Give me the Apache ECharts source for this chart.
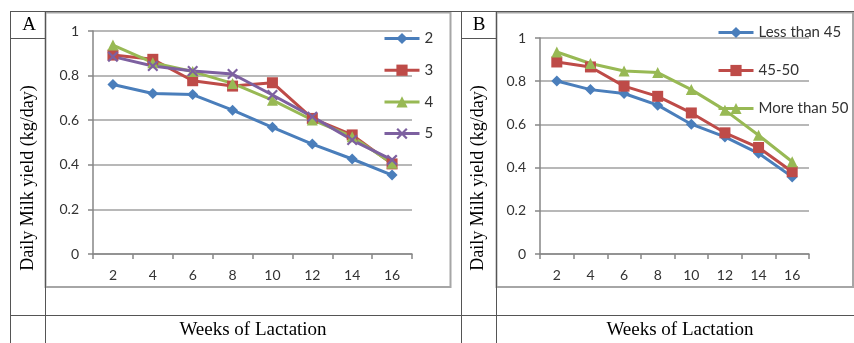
<!DOCTYPE html>
<html>
<head>
<meta charset="utf-8">
<script src="https://cdn.jsdelivr.net/npm/echarts@6/dist/echarts.min.js"></script>
<style>
html,body{margin:0;padding:0;background:#fff;}
#c{width:854px;height:343px;}
</style>
</head>
<body>
<div id="c"></div>
<script>
const weeks = ['2','4','6','8','10','12','14','16'];
// Panel A (series by parity)
const seriesA2 = [0.76, 0.72, 0.715, 0.645, 0.568, 0.493, 0.426, 0.354];
const seriesA3 = [0.892, 0.873, 0.777, 0.753, 0.768, 0.608, 0.534, 0.404];
const seriesA4 = [0.937, 0.858, 0.818, 0.765, 0.69, 0.601, 0.526, 0.407];
const seriesA5 = [0.885, 0.843, 0.821, 0.807, 0.713, 0.616, 0.511, 0.422];
// Panel B (series by body weight group)
const seriesBLess45 = [0.801, 0.761, 0.743, 0.689, 0.601, 0.542, 0.466, 0.357];
const seriesB4550 = [0.889, 0.866, 0.777, 0.730, 0.653, 0.561, 0.493, 0.381];
const seriesBMore50 = [0.935, 0.882, 0.847, 0.840, 0.761, 0.666, 0.550, 0.427];
const namesA = ['2','3','4','5'];
const namesB = ['Less than 45','45-50','More than 50'];
const yTicks = [0, 0.2, 0.4, 0.6, 0.8, 1];

const BLUE='#4A7EBB', RED='#BE4B48', GREEN='#98B954', PURPLE='#7D60A0';
const XSYM = 'path://M0,1.4L1.4,0L5,3.6L8.6,0L10,1.4L6.4,5L10,8.6L8.6,10L5,6.4L1.4,10L0,8.6L3.6,5Z';
const sans = 'Lato';
const serif = 'Liberation Serif';
const tableColor = '#555555';
const frameColor = '#a6a6a6';
const gridColor = '#a0a0a0';

function mkX(i){
  return {type:'category', gridIndex:i, data:weeks, boundaryGap:true,
    axisLine:{lineStyle:{color:'#868686',width:1.5}},
    axisTick:{show:true,length:5,lineStyle:{color:'#868686',width:1.5}},
    axisLabel:{color:'#333',fontFamily:sans,fontSize:14,margin:14}};
}
function mkY(i){
  return {type:'value', gridIndex:i, min:0, max:1, interval:0.2,
    axisLine:{show:true,lineStyle:{color:'#868686',width:1.5}},
    axisTick:{show:true,length:5,lineStyle:{color:'#868686',width:1.5}},
    splitLine:{show:true,lineStyle:{color:gridColor,width:1.5}},
    axisLabel:{color:'#333',fontFamily:sans,fontSize:14,margin:14,
      formatter:function(v){ return yTicks.indexOf(Math.round(v*10)/10) >= 0 ? String(Math.round(v*10)/10) : ''; }}};
}
function mkS(name, data, color, symbol, size, gi){
  return {type:'line', name:name, data:data, xAxisIndex:gi, yAxisIndex:gi,
    color:color, symbol:symbol, symbolSize:size, showAllSymbol:true,
    lineStyle:{color:color,width:3}, itemStyle:{color:color},
    emphasis:{disabled:true}, animation:false};
}

function line(x1,y1,x2,y2,color,w){
  return {type:'line', shape:{x1:x1,y1:y1,x2:x2,y2:y2}, style:{stroke:color,lineWidth:w||1}, z:100, silent:true};
}
function txt(t,x,y,size,rot){
  return {type:'text', x:x, y:y, rotation:rot||0, style:{text:t, fill:'#000', font: size+'px "'+serif+'"', align:'center', verticalAlign:'middle'}, z:100, silent:true};
}

const chart = echarts.init(document.getElementById('c'), null, {renderer:'canvas'});
chart.setOption({
  animation:false,
  backgroundColor:'#fff',
  grid:[
    {left:93, top:31, right:854-412, bottom:343-254, containLabel:false},
    {left:540, top:38, right:854-809, bottom:343-254, containLabel:false}
  ],
  xAxis:[mkX(0), mkX(1)],
  yAxis:[mkY(0), mkY(1)],
  legend:[
    {data:namesA, orient:'vertical', left:383, top:31, padding:0, itemWidth:35, itemHeight:14, itemGap:16.7,
      lineStyle:{width:3}, textStyle:{color:'#333',fontFamily:sans,fontSize:15}, selectedMode:false},
    {data:namesB, orient:'vertical', left:717, top:25, padding:0, itemWidth:35, itemHeight:14, itemGap:23,
      lineStyle:{width:3}, textStyle:{color:'#333',fontFamily:sans,fontSize:15}, selectedMode:false}
  ],
  series:[
    mkS(namesA[0], seriesA2, BLUE, 'diamond', 11, 0),
    mkS(namesA[1], seriesA3, RED, 'rect', 11, 0),
    mkS(namesA[2], seriesA4, GREEN, 'triangle', 11, 0),
    mkS(namesA[3], seriesA5, PURPLE, XSYM, 11, 0),
    mkS(namesB[0], seriesBLess45, BLUE, 'diamond', 11, 1),
    mkS(namesB[1], seriesB4550, RED, 'rect', 11, 1),
    mkS(namesB[2], seriesBMore50, GREEN, 'triangle', 11, 1)
  ],
  graphic:[
    // chart frames
    {type:'rect', shape:{x:45.5,y:12.5,width:405,height:274.5}, style:{fill:null, stroke:frameColor, lineWidth:2}, z:90, silent:true},
    {type:'rect', shape:{x:496.5,y:12.5,width:356.5,height:274.5}, style:{fill:null, stroke:frameColor, lineWidth:2}, z:90, silent:true},
    // table lines
    line(10,11.5,854,11.5,tableColor),
    line(10.5,11,10.5,343,tableColor),
    line(45.5,11,45.5,343,tableColor),
    line(461.5,11,461.5,343,tableColor),
    line(496.5,11,496.5,343,tableColor),
    line(10,38.5,45,38.5,tableColor),
    line(461,38.5,496,38.5,tableColor),
    line(10,315.5,854,315.5,tableColor),
    // texts
    txt('A',29,25,19),
    txt('B',479,25,19),
    txt('Daily Milk yield (kg/day)',28,178,18,Math.PI/2),
    txt('Daily Milk yield (kg/day)',478,178,18,Math.PI/2),
    txt('Weeks of Lactation',253,330,19),
    txt('Weeks of Lactation',680,330,19)
  ]
});
</script>
</body>
</html>
